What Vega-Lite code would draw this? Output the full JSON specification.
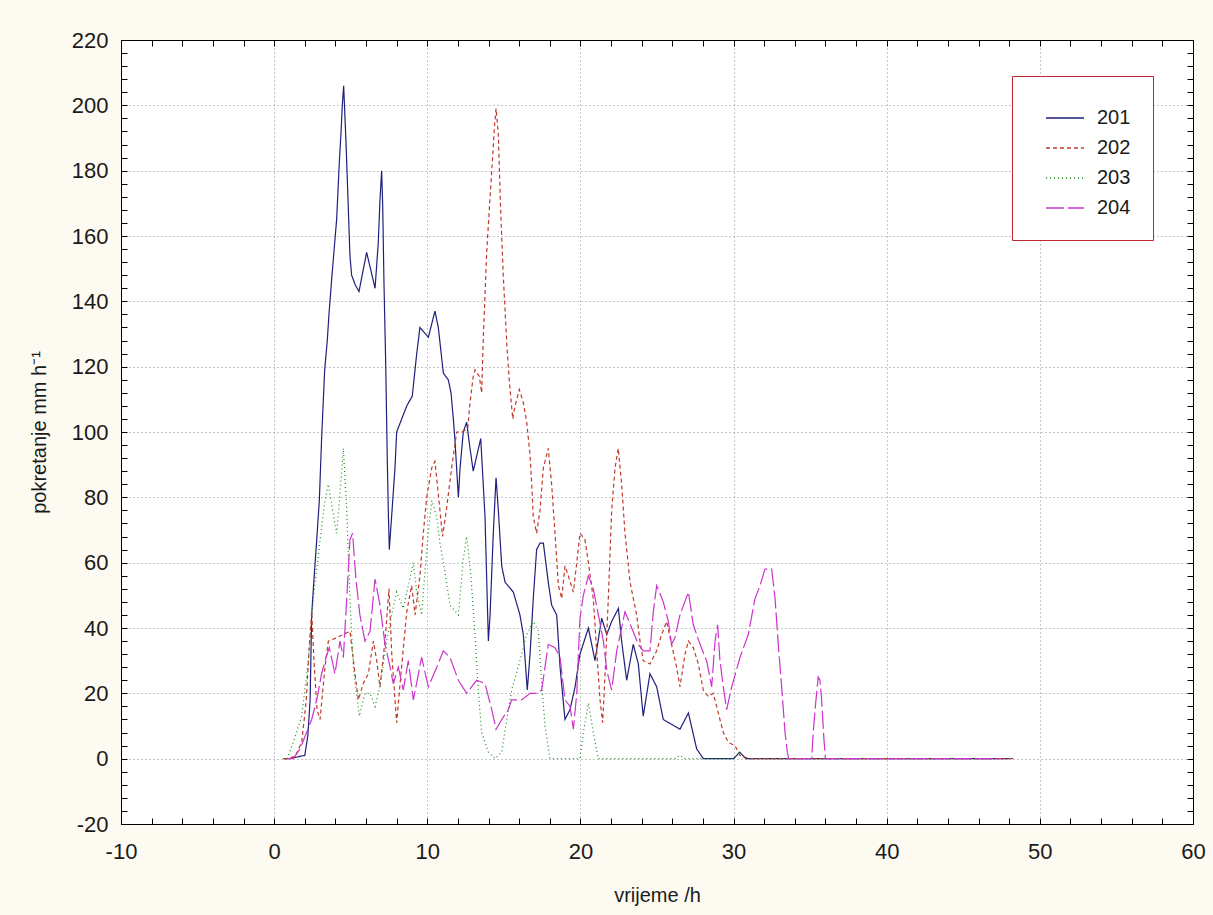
{
  "$schema": "https://vega.github.io/schema/vega-lite/v6.json",
  "width": 1072,
  "height": 784,
  "autosize": "none",
  "padding": {"left": 121, "top": 40, "right": 20, "bottom": 91},
  "background": "#fdfbf1",
  "config": {
    "font": "Liberation Sans",
    "view": {"fill": "white", "stroke": "black", "strokeWidth": 1},
    "axis": {
      "domainColor": "black",
      "tickColor": "black",
      "labelColor": "#1a1a1a",
      "titleColor": "#1a1a1a",
      "labelFontSize": 22,
      "titleFontSize": 20,
      "titleFontWeight": "normal",
      "gridColor": "#8c8c8c",
      "gridDash": [1, 3],
      "gridWidth": 1
    }
  },
  "datasets": {
    "runoff": [
      {"s":"201","t":0.6,"v":0},{"s":"201","t":1.0,"v":0},{"s":"201","t":1.5,"v":0.5},{"s":"201","t":2.0,"v":1},{"s":"201","t":2.2,"v":7},{"s":"201","t":2.35,"v":18},{"s":"201","t":2.45,"v":44},{"s":"201","t":2.56,"v":52},{"s":"201","t":2.78,"v":67},{"s":"201","t":2.95,"v":79},{"s":"201","t":3.1,"v":98},{"s":"201","t":3.3,"v":119},{"s":"201","t":3.47,"v":128},{"s":"201","t":3.58,"v":136},{"s":"201","t":3.76,"v":147},{"s":"201","t":4.08,"v":165},{"s":"201","t":4.26,"v":183},{"s":"201","t":4.37,"v":192},{"s":"201","t":4.45,"v":200},{"s":"201","t":4.54,"v":206},{"s":"201","t":4.69,"v":189},{"s":"201","t":4.78,"v":177},{"s":"201","t":4.95,"v":154},{"s":"201","t":5.06,"v":148},{"s":"201","t":5.3,"v":145},{"s":"201","t":5.54,"v":143},{"s":"201","t":6.04,"v":155},{"s":"201","t":6.59,"v":144},{"s":"201","t":6.8,"v":158},{"s":"201","t":6.91,"v":171},{"s":"201","t":7.02,"v":180},{"s":"201","t":7.09,"v":169},{"s":"201","t":7.17,"v":146},{"s":"201","t":7.28,"v":122},{"s":"201","t":7.39,"v":91},{"s":"201","t":7.46,"v":75},{"s":"201","t":7.52,"v":64},{"s":"201","t":7.67,"v":74},{"s":"201","t":7.89,"v":89},{"s":"201","t":8.0,"v":100},{"s":"201","t":8.66,"v":108},{"s":"201","t":9.02,"v":111},{"s":"201","t":9.31,"v":124},{"s":"201","t":9.52,"v":132},{"s":"201","t":10.07,"v":129},{"s":"201","t":10.5,"v":137},{"s":"201","t":10.72,"v":132},{"s":"201","t":11.05,"v":118},{"s":"201","t":11.37,"v":116},{"s":"201","t":11.55,"v":112},{"s":"201","t":11.7,"v":104},{"s":"201","t":11.8,"v":98},{"s":"201","t":12.03,"v":80},{"s":"201","t":12.14,"v":89},{"s":"201","t":12.35,"v":100},{"s":"201","t":12.57,"v":103},{"s":"201","t":12.79,"v":95},{"s":"201","t":13.0,"v":88},{"s":"201","t":13.49,"v":98},{"s":"201","t":13.77,"v":74},{"s":"201","t":13.99,"v":36},{"s":"201","t":14.1,"v":44},{"s":"201","t":14.31,"v":69},{"s":"201","t":14.49,"v":86},{"s":"201","t":14.64,"v":76},{"s":"201","t":14.86,"v":59},{"s":"201","t":15.08,"v":54},{"s":"201","t":15.62,"v":51},{"s":"201","t":16.05,"v":44},{"s":"201","t":16.27,"v":38},{"s":"201","t":16.53,"v":21},{"s":"201","t":16.71,"v":32},{"s":"201","t":16.92,"v":49},{"s":"201","t":17.14,"v":64},{"s":"201","t":17.36,"v":66},{"s":"201","t":17.58,"v":66},{"s":"201","t":17.9,"v":54},{"s":"201","t":18.12,"v":47},{"s":"201","t":18.45,"v":44},{"s":"201","t":18.67,"v":28},{"s":"201","t":18.99,"v":12},{"s":"201","t":19.32,"v":15},{"s":"201","t":19.65,"v":22},{"s":"201","t":19.97,"v":32},{"s":"201","t":20.52,"v":40},{"s":"201","t":20.95,"v":30},{"s":"201","t":21.39,"v":43},{"s":"201","t":21.72,"v":38},{"s":"201","t":22.04,"v":42},{"s":"201","t":22.48,"v":46},{"s":"201","t":22.69,"v":36},{"s":"201","t":23.02,"v":24},{"s":"201","t":23.45,"v":35},{"s":"201","t":23.78,"v":29},{"s":"201","t":24.1,"v":13},{"s":"201","t":24.54,"v":26},{"s":"201","t":24.98,"v":22},{"s":"201","t":25.41,"v":12},{"s":"201","t":26.5,"v":9},{"s":"201","t":27.05,"v":14},{"s":"201","t":27.59,"v":3},{"s":"201","t":28.03,"v":0},{"s":"201","t":29.0,"v":0},{"s":"201","t":30.0,"v":0},{"s":"201","t":30.4,"v":2},{"s":"201","t":30.8,"v":0},{"s":"201","t":35,"v":0},{"s":"201","t":40,"v":0},{"s":"201","t":45,"v":0},{"s":"201","t":48,"v":0},

      {"s":"202","t":0.6,"v":0},{"s":"202","t":1.0,"v":0},{"s":"202","t":1.4,"v":1},{"s":"202","t":1.8,"v":5},{"s":"202","t":2.1,"v":18},{"s":"202","t":2.3,"v":35},{"s":"202","t":2.45,"v":45},{"s":"202","t":2.6,"v":30},{"s":"202","t":2.8,"v":15},{"s":"202","t":3.0,"v":12},{"s":"202","t":3.32,"v":28},{"s":"202","t":3.54,"v":36},{"s":"202","t":4.08,"v":37},{"s":"202","t":4.5,"v":38},{"s":"202","t":4.95,"v":39},{"s":"202","t":5.28,"v":26},{"s":"202","t":5.5,"v":18},{"s":"202","t":5.82,"v":23},{"s":"202","t":6.15,"v":26},{"s":"202","t":6.48,"v":36},{"s":"202","t":6.7,"v":30},{"s":"202","t":6.91,"v":22},{"s":"202","t":7.24,"v":36},{"s":"202","t":7.5,"v":52},{"s":"202","t":7.68,"v":32},{"s":"202","t":8.0,"v":11},{"s":"202","t":8.32,"v":28},{"s":"202","t":8.66,"v":45},{"s":"202","t":8.98,"v":53},{"s":"202","t":9.2,"v":44},{"s":"202","t":9.52,"v":56},{"s":"202","t":9.74,"v":69},{"s":"202","t":9.96,"v":80},{"s":"202","t":10.29,"v":89},{"s":"202","t":10.5,"v":91},{"s":"202","t":10.72,"v":81},{"s":"202","t":11.0,"v":68},{"s":"202","t":11.27,"v":77},{"s":"202","t":11.59,"v":89},{"s":"202","t":11.92,"v":100},{"s":"202","t":12.25,"v":100},{"s":"202","t":12.64,"v":101},{"s":"202","t":12.79,"v":109},{"s":"202","t":13.0,"v":117},{"s":"202","t":13.12,"v":119},{"s":"202","t":13.4,"v":117},{"s":"202","t":13.55,"v":112},{"s":"202","t":13.66,"v":129},{"s":"202","t":13.88,"v":155},{"s":"202","t":14.1,"v":172},{"s":"202","t":14.25,"v":183},{"s":"202","t":14.38,"v":193},{"s":"202","t":14.49,"v":199},{"s":"202","t":14.64,"v":191},{"s":"202","t":14.79,"v":168},{"s":"202","t":14.96,"v":148},{"s":"202","t":15.19,"v":127},{"s":"202","t":15.35,"v":116},{"s":"202","t":15.58,"v":104},{"s":"202","t":15.73,"v":108},{"s":"202","t":16.01,"v":113},{"s":"202","t":16.27,"v":109},{"s":"202","t":16.49,"v":103},{"s":"202","t":16.71,"v":93},{"s":"202","t":16.82,"v":84},{"s":"202","t":16.92,"v":74},{"s":"202","t":17.14,"v":69},{"s":"202","t":17.36,"v":76},{"s":"202","t":17.58,"v":89},{"s":"202","t":17.9,"v":95},{"s":"202","t":18.12,"v":84},{"s":"202","t":18.34,"v":69},{"s":"202","t":18.56,"v":53},{"s":"202","t":18.78,"v":49},{"s":"202","t":18.99,"v":59},{"s":"202","t":19.21,"v":56},{"s":"202","t":19.54,"v":51},{"s":"202","t":19.76,"v":60},{"s":"202","t":19.97,"v":69},{"s":"202","t":20.3,"v":67},{"s":"202","t":20.52,"v":60},{"s":"202","t":20.84,"v":49},{"s":"202","t":21.06,"v":33},{"s":"202","t":21.28,"v":18},{"s":"202","t":21.45,"v":11},{"s":"202","t":21.6,"v":25},{"s":"202","t":21.82,"v":49},{"s":"202","t":22.04,"v":76},{"s":"202","t":22.26,"v":89},{"s":"202","t":22.47,"v":95},{"s":"202","t":22.69,"v":84},{"s":"202","t":22.91,"v":69},{"s":"202","t":23.24,"v":54},{"s":"202","t":23.67,"v":44},{"s":"202","t":23.89,"v":36},{"s":"202","t":24.1,"v":30},{"s":"202","t":24.54,"v":29},{"s":"202","t":24.98,"v":33},{"s":"202","t":25.3,"v":38},{"s":"202","t":25.63,"v":42},{"s":"202","t":25.95,"v":35},{"s":"202","t":26.28,"v":28},{"s":"202","t":26.5,"v":22},{"s":"202","t":26.83,"v":32},{"s":"202","t":27.05,"v":36},{"s":"202","t":27.37,"v":34},{"s":"202","t":27.7,"v":29},{"s":"202","t":28.02,"v":21},{"s":"202","t":28.35,"v":19},{"s":"202","t":28.68,"v":20},{"s":"202","t":29.0,"v":14},{"s":"202","t":29.33,"v":8},{"s":"202","t":29.66,"v":5},{"s":"202","t":30.09,"v":4},{"s":"202","t":30.42,"v":1},{"s":"202","t":31,"v":0},{"s":"202","t":35,"v":0},{"s":"202","t":40,"v":0},{"s":"202","t":45,"v":0},{"s":"202","t":48.4,"v":0},

      {"s":"203","t":0.85,"v":0},{"s":"203","t":1.25,"v":5},{"s":"203","t":1.8,"v":13},{"s":"203","t":2.23,"v":30},{"s":"203","t":2.56,"v":49},{"s":"203","t":3.0,"v":67},{"s":"203","t":3.32,"v":79},{"s":"203","t":3.54,"v":84},{"s":"203","t":3.82,"v":76},{"s":"203","t":4.08,"v":69},{"s":"203","t":4.3,"v":81},{"s":"203","t":4.52,"v":95},{"s":"203","t":4.74,"v":76},{"s":"203","t":4.95,"v":49},{"s":"203","t":5.17,"v":28},{"s":"203","t":5.56,"v":13},{"s":"203","t":5.93,"v":20},{"s":"203","t":6.26,"v":20},{"s":"203","t":6.59,"v":16},{"s":"203","t":6.91,"v":22},{"s":"203","t":7.35,"v":36},{"s":"203","t":7.67,"v":44},{"s":"203","t":8.0,"v":51},{"s":"203","t":8.43,"v":46},{"s":"203","t":8.76,"v":53},{"s":"203","t":9.09,"v":60},{"s":"203","t":9.31,"v":51},{"s":"203","t":9.63,"v":44},{"s":"203","t":9.96,"v":64},{"s":"203","t":10.29,"v":79},{"s":"203","t":10.62,"v":74},{"s":"203","t":10.83,"v":66},{"s":"203","t":11.16,"v":57},{"s":"203","t":11.48,"v":47},{"s":"203","t":12.03,"v":44},{"s":"203","t":12.35,"v":61},{"s":"203","t":12.57,"v":68},{"s":"203","t":12.83,"v":57},{"s":"203","t":13.12,"v":38},{"s":"203","t":13.33,"v":21},{"s":"203","t":13.55,"v":8},{"s":"203","t":13.99,"v":2},{"s":"203","t":14.42,"v":0},{"s":"203","t":14.86,"v":2},{"s":"203","t":15.19,"v":12},{"s":"203","t":15.51,"v":21},{"s":"203","t":16.05,"v":30},{"s":"203","t":16.49,"v":38},{"s":"203","t":16.92,"v":42},{"s":"203","t":17.25,"v":39},{"s":"203","t":17.47,"v":23},{"s":"203","t":17.69,"v":10},{"s":"203","t":18.01,"v":0},{"s":"203","t":19.97,"v":0},{"s":"203","t":20.19,"v":8},{"s":"203","t":20.52,"v":17},{"s":"203","t":20.84,"v":8},{"s":"203","t":21.17,"v":0},{"s":"203","t":26.2,"v":0},{"s":"203","t":26.5,"v":1},{"s":"203","t":26.8,"v":0},{"s":"203","t":30.0,"v":0},{"s":"203","t":30.4,"v":2},{"s":"203","t":30.8,"v":0},{"s":"203","t":35,"v":0},{"s":"203","t":40,"v":0},{"s":"203","t":45,"v":0},{"s":"203","t":47,"v":0},

      {"s":"204","t":0.85,"v":0},{"s":"204","t":1.25,"v":0},{"s":"204","t":1.69,"v":3},{"s":"204","t":2.12,"v":8},{"s":"204","t":2.45,"v":12},{"s":"204","t":2.78,"v":18},{"s":"204","t":3.1,"v":26},{"s":"204","t":3.39,"v":31},{"s":"204","t":3.6,"v":34},{"s":"204","t":3.97,"v":26},{"s":"204","t":4.3,"v":36},{"s":"204","t":4.52,"v":31},{"s":"204","t":4.74,"v":49},{"s":"204","t":4.95,"v":67},{"s":"204","t":5.12,"v":69},{"s":"204","t":5.34,"v":55},{"s":"204","t":5.6,"v":44},{"s":"204","t":5.93,"v":36},{"s":"204","t":6.26,"v":39},{"s":"204","t":6.59,"v":55},{"s":"204","t":6.91,"v":47},{"s":"204","t":7.24,"v":35},{"s":"204","t":7.57,"v":28},{"s":"204","t":7.78,"v":23},{"s":"204","t":8.11,"v":28},{"s":"204","t":8.43,"v":21},{"s":"204","t":8.76,"v":30},{"s":"204","t":9.09,"v":18},{"s":"204","t":9.63,"v":31},{"s":"204","t":10.07,"v":22},{"s":"204","t":10.62,"v":28},{"s":"204","t":11.05,"v":33},{"s":"204","t":11.48,"v":31},{"s":"204","t":12.03,"v":24},{"s":"204","t":12.57,"v":20},{"s":"204","t":13.22,"v":24},{"s":"204","t":13.77,"v":23},{"s":"204","t":14.21,"v":15},{"s":"204","t":14.49,"v":9},{"s":"204","t":14.86,"v":12},{"s":"204","t":15.29,"v":15},{"s":"204","t":15.51,"v":18},{"s":"204","t":16.16,"v":18},{"s":"204","t":16.71,"v":20},{"s":"204","t":17.2,"v":20},{"s":"204","t":17.47,"v":21},{"s":"204","t":17.9,"v":35},{"s":"204","t":18.34,"v":34},{"s":"204","t":18.67,"v":31},{"s":"204","t":18.99,"v":18},{"s":"204","t":19.32,"v":16},{"s":"204","t":19.54,"v":9},{"s":"204","t":19.76,"v":20},{"s":"204","t":19.97,"v":43},{"s":"204","t":20.19,"v":50},{"s":"204","t":20.52,"v":56},{"s":"204","t":20.84,"v":52},{"s":"204","t":21.17,"v":44},{"s":"204","t":21.5,"v":36},{"s":"204","t":21.72,"v":27},{"s":"204","t":22.04,"v":21},{"s":"204","t":22.37,"v":33},{"s":"204","t":22.91,"v":45},{"s":"204","t":23.35,"v":40},{"s":"204","t":23.78,"v":35},{"s":"204","t":24.1,"v":33},{"s":"204","t":24.54,"v":33},{"s":"204","t":24.76,"v":45},{"s":"204","t":24.98,"v":53},{"s":"204","t":25.41,"v":48},{"s":"204","t":25.74,"v":42},{"s":"204","t":25.95,"v":35},{"s":"204","t":26.17,"v":37},{"s":"204","t":26.5,"v":44},{"s":"204","t":27.05,"v":51},{"s":"204","t":27.37,"v":41},{"s":"204","t":27.59,"v":38},{"s":"204","t":27.81,"v":35},{"s":"204","t":28.24,"v":30},{"s":"204","t":28.57,"v":22},{"s":"204","t":28.79,"v":36},{"s":"204","t":28.96,"v":41},{"s":"204","t":29.11,"v":30},{"s":"204","t":29.33,"v":22},{"s":"204","t":29.55,"v":15},{"s":"204","t":29.88,"v":22},{"s":"204","t":30.42,"v":31},{"s":"204","t":30.96,"v":38},{"s":"204","t":31.4,"v":49},{"s":"204","t":31.73,"v":53},{"s":"204","t":32.05,"v":58},{"s":"204","t":32.49,"v":58},{"s":"204","t":32.71,"v":49},{"s":"204","t":32.92,"v":35},{"s":"204","t":33.14,"v":22},{"s":"204","t":33.36,"v":8},{"s":"204","t":33.51,"v":2},{"s":"204","t":33.6,"v":0},{"s":"204","t":35.1,"v":0},{"s":"204","t":35.2,"v":8},{"s":"204","t":35.38,"v":18},{"s":"204","t":35.53,"v":25},{"s":"204","t":35.64,"v":24},{"s":"204","t":35.75,"v":18},{"s":"204","t":35.9,"v":6},{"s":"204","t":36.0,"v":0},{"s":"204","t":40,"v":0},{"s":"204","t":44,"v":0},{"s":"204","t":47.5,"v":0}
    ]
  },
  "data": {"name": "runoff"},
  "layer": [
    {
      "mark": {"type": "line", "strokeWidth": 1.2},
      "encoding": {
        "x": {
          "field": "t", "type": "quantitative",
          "scale": {"domain": [-10, 60], "nice": false, "zero": false},
          "axis": {
            "orient": "bottom",
            "title": "vrijeme /h",
            "titlePadding": 23,
            "values": [-10,-8,-6,-4,-2,0,2,4,6,8,10,12,14,16,18,20,22,24,26,28,30,32,34,36,38,40,42,44,46,48,50,52,54,56,58,60],
            "labelExpr": "datum.value % 10 === 0 ? '' + datum.value : ''",
            "gridOpacity": {"condition": {"test": "datum.value % 10 === 0", "value": 1}, "value": 0},
            "tickSize": -6,
            "labelPadding": 23,
            "labelFlush": false
          }
        },
        "y": {
          "field": "v", "type": "quantitative",
          "scale": {"domain": [-20, 220], "nice": false, "zero": false},
          "axis": {
            "orient": "left",
            "title": "pokretanje mm h⁻¹",
            "titlePadding": 22,
            "values": [-20,-16,-12,-8,-4,0,4,8,12,16,20,24,28,32,36,40,44,48,52,56,60,64,68,72,76,80,84,88,92,96,100,104,108,112,116,120,124,128,132,136,140,144,148,152,156,160,164,168,172,176,180,184,188,192,196,200,204,208,212,216,220],
            "labelExpr": "datum.value % 20 === 0 ? '' + datum.value : ''",
            "gridOpacity": {"condition": {"test": "datum.value % 20 === 0", "value": 1}, "value": 0},
            "tickSize": -6,
            "labelPadding": 19,
            "labelFlush": false
          }
        },
        "color": {
          "field": "s", "type": "nominal",
          "scale": {"domain": ["201", "202", "203", "204"], "range": ["#1f1f7e", "#c0392b", "#1e8a1e", "#cc33cc"]},
          "legend": {
            "title": null, "orient": "none", "legendX": 891, "legendY": 36,
            "padding": 22, "symbolOffset": 11, "strokeColor": "#c0282d", "fillColor": "white",
            "symbolType": "stroke", "symbolSize": 1444, "symbolStrokeWidth": 1.5,
            "labelFontSize": 20, "labelOffset": 12, "rowPadding": -2, "labelColor": "#1a1a1a"
          }
        },
        "strokeDash": {
          "field": "s", "type": "nominal",
          "scale": {"domain": ["201", "202", "203", "204"], "range": [[1, 0], [4, 3], [1, 3], [18, 4]]},
          "legend": {
            "title": null, "orient": "none", "legendX": 891, "legendY": 36,
            "padding": 22, "symbolOffset": 11, "strokeColor": "#c0282d", "fillColor": "white",
            "symbolType": "stroke", "symbolSize": 1444, "symbolStrokeWidth": 1.5,
            "labelFontSize": 20, "labelOffset": 12, "rowPadding": -2, "labelColor": "#1a1a1a"
          }
        }
      }
    },
    {
      "mark": {"type": "line", "opacity": 0},
      "encoding": {
        "x": {
          "field": "t", "type": "quantitative",
          "scale": {"domain": [-10, 60], "nice": false, "zero": false},
          "axis": {
            "orient": "top", "title": null, "labels": false, "grid": false,
            "values": [-10,-8,-6,-4,-2,0,2,4,6,8,10,12,14,16,18,20,22,24,26,28,30,32,34,36,38,40,42,44,46,48,50,52,54,56,58,60],
            "tickSize": -6
          }
        },
        "y": {
          "field": "v", "type": "quantitative",
          "scale": {"domain": [-20, 220], "nice": false, "zero": false},
          "axis": {
            "orient": "right", "title": null, "labels": false, "grid": false,
            "values": [-20,-16,-12,-8,-4,0,4,8,12,16,20,24,28,32,36,40,44,48,52,56,60,64,68,72,76,80,84,88,92,96,100,104,108,112,116,120,124,128,132,136,140,144,148,152,156,160,164,168,172,176,180,184,188,192,196,200,204,208,212,216,220],
            "tickSize": -6
          }
        }
      }
    }
  ],
  "resolve": {"axis": {"x": "independent", "y": "independent"}}
}
